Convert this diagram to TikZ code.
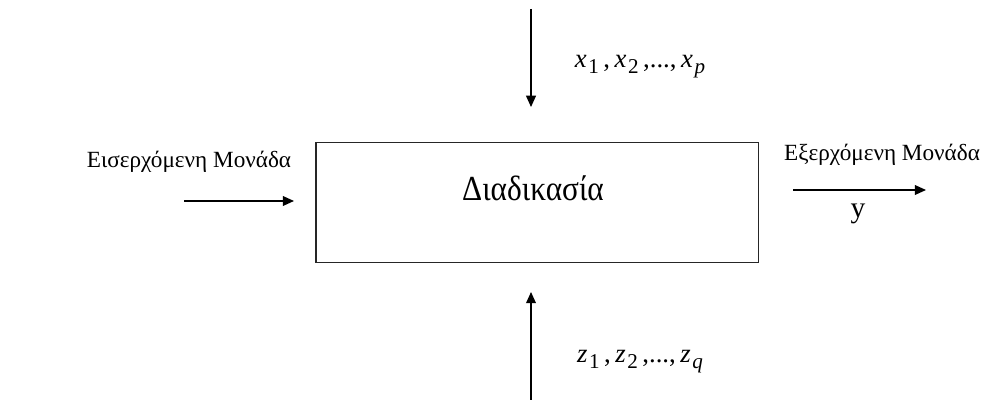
\documentclass[tikz,border=0pt]{standalone}
\usepackage{fontspec}
\setmainfont{Liberation Serif}
\usetikzlibrary{arrows.meta,positioning}
\newcommand{\inpvar}[2]{\textit{#1}\kern1.2pt\raisebox{-0.5ex}{\fontsize{15}{17}\selectfont #2}}

\begin{document}
\begin{tikzpicture}[x=0.025cm,y=0.025cm,node distance=0.7cm,procbox/.style={draw=black!85,line width=0.8pt,minimum width=11.05cm,minimum height=3.02cm},proctext/.style={font=\fontsize{25}{30}\selectfont,inner sep=0pt},lbl/.style={font=\fontsize{16.5}{20}\selectfont,inner sep=0pt},mlbl/.style={font=\fontsize{19}{23}\selectfont,inner sep=0pt},arr/.style={-{Triangle[length=8pt,width=7pt]},line width=0.9pt}]
\useasboundingbox (0,0) rectangle (984,400);
\node[procbox](proc) at (537,197.5){};
\node[proctext](proctxt) at (533,211.5){\scalebox{0.89}[1]{Διαδικασία}};
\coordinate (xs) at (531,391);\coordinate (xe) at (531,293);
\coordinate (zs) at (531,0);\coordinate (ze) at (531,108);
\coordinate (ins) at (184,199);\coordinate (ine) at (294,199);
\coordinate (outs) at (793,210);\coordinate (oute) at (926,210);
\node[lbl](inlbl) at (189,238){Εισερχόμενη Μονάδα};
\node[lbl](outlbl) at (882,245){Εξερχόμενη Μονάδα};
\node[inner sep=0pt,font=\fontsize{21}{24}\selectfont](ylbl) at (858,186.5){y};
\node[mlbl](xlbl) at (640,333){\inpvar{x}{1}\,,\,\inpvar{x}{2}\,,...,\,\inpvar{x}{\textit{p}}};
\node[mlbl](zlbl) at (640,38){\inpvar{z}{1}\,,\,\inpvar{z}{2}\,,...,\,\inpvar{z}{\textit{q}}};
\draw[arr](xs)--(xe);\draw[arr](zs)--(ze);\draw[arr](ins)--(ine);\draw[arr](outs)--(oute);
\end{tikzpicture}
\end{document}
